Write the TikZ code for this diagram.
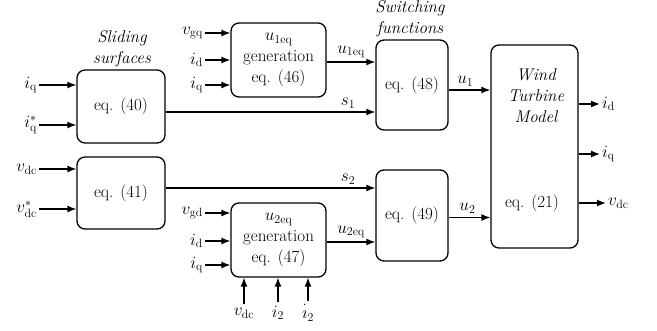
\documentclass[tikz,border=0pt]{standalone}
\usetikzlibrary{arrows.meta,positioning}

\newcommand{\sg}[2]{$#1_{\mathrm{#2}}$}

\tikzset{
    blk/.style={draw, rounded corners=8pt, line width=1.3pt, align=center, inner sep=0pt},
    ttl/.style={align=center, font=\fontsize{17}{21}\selectfont\itshape},
    sig/.style={->, line width=1.3pt},
}

\begin{document}
\begin{tikzpicture}[x=1pt, y=-1pt, >={Latex[length=9pt,width=7pt]},
    every node/.style={font=\fontsize{17}{21}\selectfont}]
    \useasboundingbox (0,0) rectangle (657,330);

    % Blocks
    \node[blk, minimum width=88pt, minimum height=73pt] (ss1) at (121,106.5) {eq. (40)};
    \node[blk, minimum width=88pt, minimum height=72pt] (ss2) at (121,193) {eq. (41)};
    \node[blk, minimum width=95pt, minimum height=74pt] (ueq1) at (278.5,60) {\sg{u}{1eq}\\generation\\eq. (46)};
    \node[blk, minimum width=95pt, minimum height=74pt] (ueq2) at (278.5,240) {\sg{u}{2eq}\\generation\\eq. (47)};
    \node[blk, minimum width=72pt, minimum height=90pt] (sw1) at (412,85) {eq. (48)};
    \node[blk, minimum width=72pt, minimum height=91pt] (sw2) at (412,215.5) {eq. (49)};
    \node[blk, minimum width=87pt, minimum height=203pt] (wt) at (534.5,146.5) {};
    \node[ttl] (wtname) at (536,96) {Wind\\Turbine\\Model};
    \node (wteq) at (532,203) {eq. (21)};

    % Titles
    \node[ttl] (sstitle) at (122,49) {Sliding\\surfaces};
    \node[ttl] (swtitle) at (410,19) {Switching\\functions};

    % Inputs
    \node[anchor=east, inner sep=2pt] (iqa) at (39,85) {\sg{i}{q}};
    \node[anchor=east, inner sep=2pt] (iqs) at (39,125) {$i^{*}_{\mathrm{q}}$};
    \node[anchor=east, inner sep=2pt] (vdca) at (39,169) {\sg{v}{dc}};
    \node[anchor=east, inner sep=2pt] (vdcs) at (39,209) {$v^{*}_{\mathrm{dc}}$};
    \node[anchor=east, inner sep=2pt] (vgq) at (205,33) {\sg{v}{gq}};
    \node[anchor=east, inner sep=2pt] (idb) at (205,60) {\sg{i}{d}};
    \node[anchor=east, inner sep=2pt] (iqb) at (205,85) {\sg{i}{q}};
    \node[anchor=east, inner sep=2pt] (vgd) at (205,213) {\sg{v}{gd}};
    \node[anchor=east, inner sep=2pt] (idc) at (205,241) {\sg{i}{d}};
    \node[anchor=east, inner sep=2pt] (iqc) at (205,265) {\sg{i}{q}};
    \node[inner sep=0.5pt] (vdcb) at (244,313) {\sg{v}{dc}};
    \node[inner sep=0.5pt] (itwo) at (278,313) {$i_2$};
    \node[inner sep=0.5pt] (itwod) at (308,313) {$\dot{\vphantom{t}\imath}_2$};

    \foreach \a/\b in {iqa/ss1, iqs/ss1, vdca/ss2, vdcs/ss2, vgq/ueq1, idb/ueq1, iqb/ueq1, vgd/ueq2, idc/ueq2, iqc/ueq2}
        \draw[sig] (\a.east) -- (\a.east -| \b.west);
    \foreach \a in {vdcb, itwo, itwod}
        \draw[sig] ([yshift=3pt]\a.north) -- (\a.north |- ueq2.south);

    % Signals between blocks
    \coordinate (s1) at (0,112);
    \coordinate (s2) at (0,188);
    \draw[sig] (ss1.east |- s1) -- node[above, pos=0.87] {$s_1$} (sw1.west |- s1);
    \draw[sig] (ss2.east |- s2) -- node[above, pos=0.87] {$s_2$} (sw2.west |- s2);
    \draw[sig] ([yshift=-2pt]ueq1.east) -- node[above, pos=0.5] {\sg{u}{1eq}} ([yshift=-2pt]ueq1.east -| sw1.west);
    \draw[sig] ([yshift=-2pt]ueq2.east) -- node[above, pos=0.5] {\sg{u}{2eq}} ([yshift=-2pt]ueq2.east -| sw2.west);
    \draw[sig] ([yshift=-5pt]sw1.east) -- node[above, pos=0.4] {$u_1$} ([yshift=-5pt]sw1.east -| wt.west);
    \draw[sig] ([yshift=-2pt]sw2.east) -- node[above, pos=0.45] {$u_2$} ([yshift=-2pt]sw2.east -| wt.west);

    % Outputs
    \node[anchor=west, inner sep=2pt] (ido) at (600,104) {\sg{i}{d}};
    \node[anchor=west, inner sep=2pt] (iqo) at (600,154) {\sg{i}{q}};
    \node[anchor=west, inner sep=2pt] (vdco) at (606,203) {\sg{v}{dc}};
    \foreach \a in {ido, iqo, vdco}
        \draw[sig] (\a.west -| wt.east) -- (\a.west);
\end{tikzpicture}
\end{document}
